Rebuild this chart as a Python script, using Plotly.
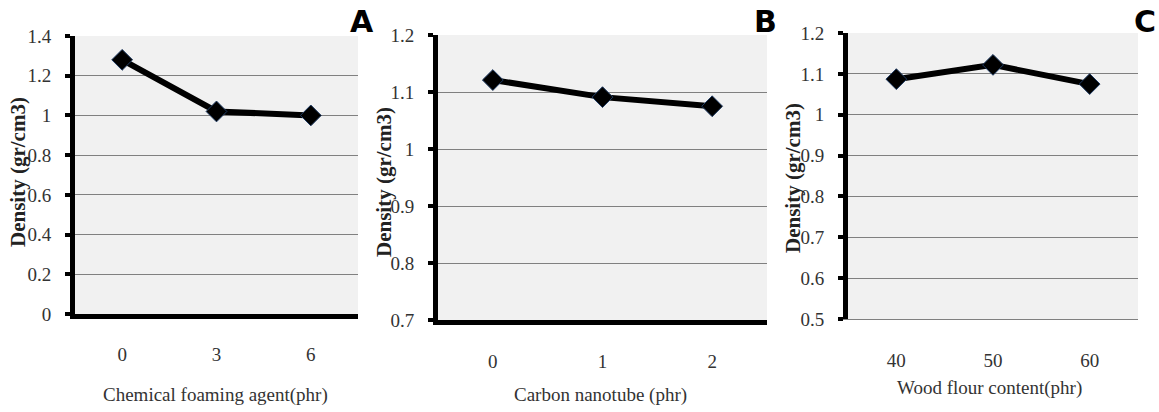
import plotly.graph_objects as go

W, H = 1159, 412

# Data
cats_a = ["0", "3", "6"]
dens_a = [1.28, 1.02, 1.00]
cats_b = ["0", "1", "2"]
dens_b = [1.121, 1.091, 1.075]
cats_c = ["40", "50", "60"]
dens_c = [1.087, 1.122, 1.075]

xtitle_a = "Chemical foaming agent(phr)"
xtitle_b = "Carbon nanotube (phr)"
xtitle_c = "Wood flour content(phr)"
ytitle = "Density (gr/cm3)"

# panel pixel boxes: left, right, top, bottom
boxes = [(75, 358, 36, 314), (438, 767, 35, 320), (848, 1138, 33, 319)]
yranges = [(0, 1.4, 0.2), (0.7, 1.2, 0.1), (0.5, 1.2, 0.1)]
xstand = [19, 20, 24]

fig = go.Figure()
series = [(cats_a, dens_a), (cats_b, dens_b), (cats_c, dens_c)]
for i, (cx, cy) in enumerate(series):
    fig.add_trace(go.Scatter(
        x=cx, y=cy, mode="lines+markers",
        line=dict(color="black", width=6),
        marker=dict(symbol="diamond", size=16, color="black",
                    line=dict(color="#1f3b63", width=1)),
        xaxis="x" if i == 0 else f"x{i+1}",
        yaxis="y" if i == 0 else f"y{i+1}",
        showlegend=False,
    ))

tickfont = dict(family="Liberation Serif", size=19, color="#333333")
for i, ((l, r, t, b), (y0, y1, dy)) in enumerate(zip(boxes, yranges)):
    sfx = "" if i == 0 else str(i + 1)
    xa = dict(
        domain=[l / W, r / W], anchor="y" + sfx, type="category",
        range=[-0.5, 2.5], showgrid=False, zeroline=False,
        showline=(i < 2), linecolor="black", linewidth=5,
        ticks="", tickfont=tickfont, ticklabelstandoff=xstand[i],
        fixedrange=True, automargin=False,
    )
    ya = dict(
        domain=[1 - b / H, 1 - t / H], anchor="x" + sfx,
        range=[y0, y1], dtick=dy, tick0=y0,
        showgrid=True, gridcolor="#808080", gridwidth=1,
        zeroline=False, showline=True, linecolor="black", linewidth=5,
        ticks="outside", ticklen=5, tickwidth=4, tickcolor="black",
        tickfont=tickfont, ticklabelstandoff=10,
        tickformat="~g", fixedrange=True, automargin=False,
    )
    fig.layout["xaxis" + sfx] = xa
    fig.layout["yaxis" + sfx] = ya

# Panel C bottom grid line (thin gray)
fig.layout["xaxis3"].update(showline=True, linecolor="#808080", linewidth=1)

ann = []
# panel letters
for txt, x, y in [("A", 362, 22), ("B", 765, 22), ("C", 1145, 22)]:
    ann.append(dict(text=f"<b>{txt}</b>", x=x / W, y=1 - y / H, xref="paper", yref="paper",
                    showarrow=False, xanchor="center", yanchor="middle",
                    font=dict(family="DejaVu Sans", size=30, color="black")))
# x titles
for txt, x, y in [(xtitle_a, 215, 395), (xtitle_b, 600, 395), (xtitle_c, 989, 388)]:
    ann.append(dict(text=txt, x=x / W, y=1 - y / H, xref="paper", yref="paper",
                    showarrow=False, xanchor="center", yanchor="middle",
                    font=dict(family="Liberation Serif", size=19, color="#333333")))
# y titles
for x, y in [(18, 172), (384, 182), (793, 178)]:
    ann.append(dict(text=f"<b>{ytitle}</b>", x=x / W, y=1 - y / H, xref="paper", yref="paper",
                    showarrow=False, xanchor="center", yanchor="middle", textangle=-90,
                    font=dict(family="Liberation Serif", size=21, color="#222222")))

fig.update_layout(
    width=W, height=H, margin=dict(l=0, r=0, t=0, b=0, autoexpand=False),
    paper_bgcolor="white", plot_bgcolor="#f1f1f1",
    annotations=ann,
)

fig.write_html("out.html", config={"displayModeBar": False},
               post_script="document.body.style.margin='0px';")
